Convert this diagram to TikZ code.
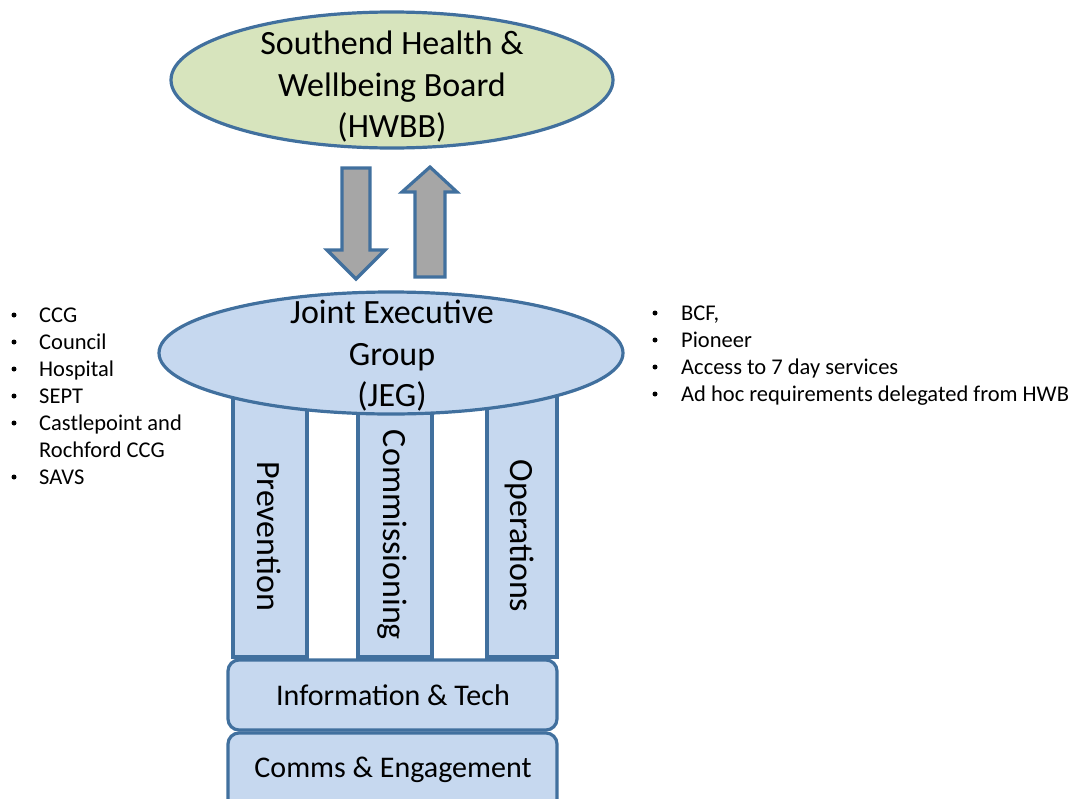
\documentclass[tikz,border=0pt]{standalone}
\usepackage{fontspec}
\setmainfont{Carlito}
\usetikzlibrary{shapes.geometric}
\definecolor{edgeblue}{HTML}{41709E}
\definecolor{boardgreen}{HTML}{D7E4BD}
\definecolor{paleblue}{HTML}{C6D8EF}
\definecolor{arrowgray}{HTML}{A6A6A6}
\begin{document}
\begin{tikzpicture}[x=1pt,y=-1pt,
  outline/.style={draw=edgeblue,line width=3.2pt},
  board/.style={outline,ellipse,fill=boardgreen,inner sep=0pt},
  group/.style={outline,ellipse,fill=paleblue,inner sep=0pt},
  pillar/.style={outline,fill=paleblue},
  layer/.style={outline,fill=paleblue,rounded corners=11pt},
  blockarrow/.style={outline,fill=arrowgray,line join=miter},
  bigtext/.style={font=\fontsize{34}{41.5}\selectfont,align=center,inner sep=0pt},
  midtext/.style={font=\fontsize{30}{36}\selectfont,inner sep=0pt},
  listtext/.style={font=\fontsize{22.5}{27}\selectfont,inner sep=0pt,anchor=base west},
  dot/.style={circle,fill=black,inner sep=0pt,minimum size=5pt},
]
\useasboundingbox (0,0) rectangle (1076,798);

% board at the top
\node[board,minimum width=442pt,minimum height=136pt] (hwbb) at (392,80) {};
\node[bigtext] (hwbbtext) at (392,87) {Southend Health \&\\Wellbeing Board\\(HWBB)};

% two-way block arrows
\draw[blockarrow] (342,168) -- (370,168) -- (370,250) -- (385,250) -- (356,279)
  -- (327,250) -- (342,250) -- cycle;
\draw[blockarrow] (430,167) -- (457,192) -- (445,192) -- (445,277) -- (415,277)
  -- (415,192) -- (402,192) -- cycle;

% pillars under the group
\draw[pillar] (233,380) rectangle (307,657);
\draw[pillar] (358,380) rectangle (432,657);
\draw[pillar] (487,380) rectangle (557,657);

% joint executive group
\node[group,minimum width=464pt,minimum height=122pt] (jeg) at (391,353) {};
\node[bigtext] (jegtext) at (392,356) {Joint Executive\\Group\\(JEG)};

% pillar labels, read top to bottom
\node[bigtext,rotate=-90,anchor=base] (prev) at (257,536) {Prevention};
\node[bigtext,rotate=-90,anchor=base] (comm) at (383,535) {Commissioning};
\node[bigtext,rotate=-90,anchor=base] (oper) at (510,536) {Operations};

% foundation layers
\draw[layer] (228,660) rectangle (557,730);
\node[midtext] (info) at (393,695) {Information \& Tech};
\draw[layer] (228,733) rectangle (557,815);
\node[midtext] (comms) at (393,770) {Comms \& Engagement};

% membership list
\foreach \y in {322,349,376,403,430,484}
  \node[dot] at (14,\y-7) {};
\node[listtext] (m1) at (39,322) {CCG};
\node[listtext] (m2) at (39,349) {Council};
\node[listtext] (m3) at (39,376) {Hospital};
\node[listtext] (m4) at (39,403) {SEPT};
\node[listtext] (m5) at (39,430) {Castlepoint and};
\node[listtext] (m6) at (39,457) {Rochford CCG};
\node[listtext] (m7) at (39,484) {SAVS};

% remit list
\foreach \y in {320,347,374,401}
  \node[dot] at (655,\y-7) {};
\node[listtext] (r1) at (681,320) {BCF,};
\node[listtext] (r2) at (681,347) {Pioneer};
\node[listtext] (r3) at (681,374) {Access to 7 day services};
\node[listtext] (r4) at (681,401) {Ad hoc requirements delegated from HWB};
\end{tikzpicture}
\end{document}
